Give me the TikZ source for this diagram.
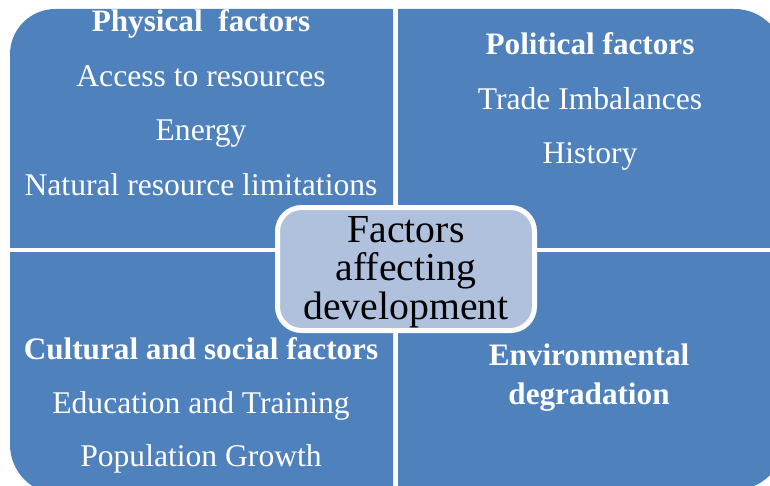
\documentclass[tikz,border=0pt]{standalone}
\usepackage{fontspec}
\setmainfont{Liberation Serif}
\definecolor{quad}{HTML}{4F81BD}
\definecolor{hubfill}{HTML}{B0C1DD}
\tikzset{
  quadfill/.style={fill=quad, rounded corners=37},
  item/.style={anchor=base, text=white, inner sep=0pt, font=\fontsize{23.7}{28}\selectfont},
  head/.style={item, font=\fontsize{23.4}{28}\selectfont\bfseries},
  hubtext/.style={anchor=base, text=black, inner sep=0pt, font=\fontsize{29.8}{30}\selectfont},
  hubbox/.style={draw=white, line width=3.75pt, fill=hubfill, rounded corners=18,
    minimum width=257*0.75pt, minimum height=123*0.75pt, inner sep=0pt}
}
\begin{document}
\begin{tikzpicture}[x=0.75pt, y=-0.75pt]
\useasboundingbox (0,0) rectangle (770,485);
\clip (0,0) rectangle (770,485);
% quadrants
\begin{scope}
  \clip (10,9) rectangle (393,247);
  \path[quadfill, rounded corners=34] (10,9) rectangle (600,600);
\end{scope}
\begin{scope}
  \clip (398,9) rectangle (784,247);
  \path[quadfill] (100,9) rectangle (784,600);
\end{scope}
\begin{scope}
  \clip (10,252) rectangle (393,494);
  \path[quadfill] (10,-100) rectangle (600,494);
\end{scope}
\begin{scope}
  \clip (398,252) rectangle (784,490);
  \path[quadfill] (100,-100) rectangle (784,490);
\end{scope}
% texts top-left
\node[head] (ph) at (201,32) {Physical\ \ factors};
\node[item] (p1) at (201,86) {Access to resources};
\node[item] (p2) at (201,140) {Energy};
\node[item] (p3) at (201,195) {Natural resource limitations};
% top-right
\node[head] (po) at (590,55) {Political factors};
\node[item] (o1) at (590,109) {Trade Imbalances};
\node[item] (o2) at (590,163) {History};
% bottom-left
\node[head] (cu) at (201,359) {Cultural and social factors};
\node[item] (c1) at (201,413) {Education and Training};
\node[item] (c2) at (201,466) {Population Growth};
% bottom-right
\node[head] (en) at (589,365) {Environmental};
\node[head] (en2) at (589,404) {degradation};
% hub
\node[hubbox] (hub) at (406,269) {};
\node[hubtext] (h1) at (406,242) {Factors};
\node[hubtext] (h2) at (406,280) {affecting};
\node[hubtext] (h3) at (406,319) {development};
\end{tikzpicture}
\end{document}
